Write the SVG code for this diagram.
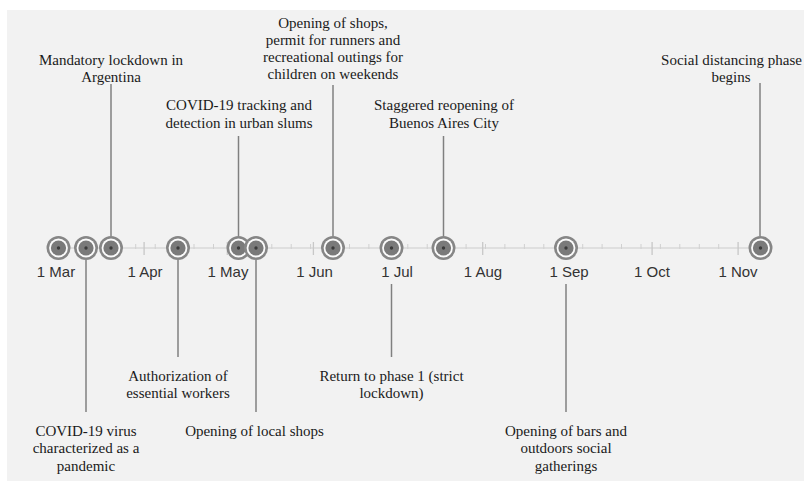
<svg xmlns="http://www.w3.org/2000/svg" width="804" height="481" viewBox="0 0 804 481">
<defs>
<style>
.lbl{font-family:"Liberation Serif","Times New Roman",serif;font-size:15px;fill:#1a1a1a;text-anchor:middle}
.mon{font-family:"Liberation Sans",Arial,sans-serif;font-size:15px;fill:#333333;text-anchor:middle}
.axis{stroke:#d9d9d9;stroke-width:1.5;fill:none}
.minor{stroke:#d0d0d0;stroke-width:1;fill:none}
.major{stroke:#c8c8c8;stroke-width:1.3;fill:none}
.conn{stroke:#808080;stroke-width:1.5;fill:none}
</style>
<g id="marker">
<circle r="12" fill="#868686"/>
<circle r="9.4" fill="#fbfbfb"/>
<circle r="7.6" fill="#7a7a7a"/>
<circle r="1.7" fill="#3a3a3a"/>
</g>
</defs>
<rect x="0" y="0" width="804" height="481" fill="#ffffff"/>
<rect x="7" y="10" width="797" height="471" fill="#f2f2f2"/>

<g id="axis">
<path class="axis" d="M58 248H761"/>
<path class="minor" d="M77.4 244V249M96.9 244V249M116.3 244V249M135.7 244V249M155.2 244V249M174.6 244V249M194 244V249M213.5 244V249M232.9 244V249M252.3 244V249M271.8 244V249M291.2 244V249M310.6 244V249M330 244V249M349.5 244V249M368.9 244V249M388.3 244V249M407.8 244V249M427.2 244V249M446.6 244V249M466.1 244V249M485.5 244V249M504.9 244V249M524.4 244V249M543.8 244V249M563.2 244V249M582.7 244V249M602.1 244V249M621.5 244V249M641 244V249M660.4 244V249M679.8 244V249M699.3 244V249M718.7 244V249M757.6 244V249"/>
<path class="major" d="M144.1 242V255M227.3 242V255M313.4 242V255M396.7 242V255M482.7 242V255M568.8 242V255M652.1 242V255M738.1 242V255"/>
<g id="months">
<text class="mon" x="56" y="277">1 Mar</text>
<text class="mon" x="145" y="277">1 Apr</text>
<text class="mon" x="228" y="277">1 May</text>
<text class="mon" x="314.5" y="277">1 Jun</text>
<text class="mon" x="397" y="277">1 Jul</text>
<text class="mon" x="483" y="277">1 Aug</text>
<text class="mon" x="569" y="277">1 Sep</text>
<text class="mon" x="652" y="277">1 Oct</text>
<text class="mon" x="738" y="277">1 Nov</text>
</g>
</g>

<g id="connectors">
<path class="conn" d="M111 84V236"/>
<path class="conn" d="M238.5 136V236"/>
<path class="conn" d="M333 85V236"/>
<path class="conn" d="M443.5 136V236"/>
<path class="conn" d="M760 83V236"/>
<path class="conn" d="M86 260V412"/>
<path class="conn" d="M178 260V357"/>
<path class="conn" d="M256 260V412"/>
<path class="conn" d="M391.5 284V357"/>
<path class="conn" d="M566 284V412"/>
</g>

<g id="n-mar1"><use href="#marker" x="58.5" y="248"/></g>
<g id="n-pandemic">
<use href="#marker" x="86" y="248"/>
<text class="lbl" x="86" y="436">COVID-19 virus</text>
<text class="lbl" x="86" y="453">characterized as a</text>
<text class="lbl" x="86" y="471">pandemic</text>
</g>
<g id="n-lockdown">
<use href="#marker" x="111" y="248"/>
<text class="lbl" x="111" y="65">Mandatory lockdown in</text>
<text class="lbl" x="111" y="82">Argentina</text>
</g>
<g id="n-essential">
<use href="#marker" x="178" y="248"/>
<text class="lbl" x="178" y="381">Authorization of</text>
<text class="lbl" x="178" y="398">essential workers</text>
</g>
<g id="n-tracking">
<use href="#marker" x="238.5" y="248"/>
<text class="lbl" x="239" y="110">COVID-19 tracking and</text>
<text class="lbl" x="239" y="128">detection in urban slums</text>
</g>
<g id="n-localshops">
<use href="#marker" x="256" y="248"/>
<text class="lbl" x="254.5" y="436">Opening of local shops</text>
</g>
<g id="n-shops">
<use href="#marker" x="333" y="248"/>
<text class="lbl" x="333" y="28">Opening of shops,</text>
<text class="lbl" x="333" y="45">permit for runners and</text>
<text class="lbl" x="333" y="62">recreational outings for</text>
<text class="lbl" x="333" y="79">children on weekends</text>
</g>
<g id="n-phase1">
<use href="#marker" x="391.5" y="248"/>
<text class="lbl" x="391.5" y="381">Return to phase 1 (strict</text>
<text class="lbl" x="391.5" y="398">lockdown)</text>
</g>
<g id="n-baires">
<use href="#marker" x="443.5" y="248"/>
<text class="lbl" x="444" y="110">Staggered reopening of</text>
<text class="lbl" x="444" y="128">Buenos Aires City</text>
</g>
<g id="n-bars">
<use href="#marker" x="566" y="248"/>
<text class="lbl" x="566" y="436">Opening of bars and</text>
<text class="lbl" x="566" y="453">outdoors social</text>
<text class="lbl" x="566" y="471">gatherings</text>
</g>
<g id="n-distancing">
<use href="#marker" x="760.5" y="248"/>
<text class="lbl" x="731.5" y="65">Social distancing phase</text>
<text class="lbl" x="731" y="82">begins</text>
</g>
</svg>
